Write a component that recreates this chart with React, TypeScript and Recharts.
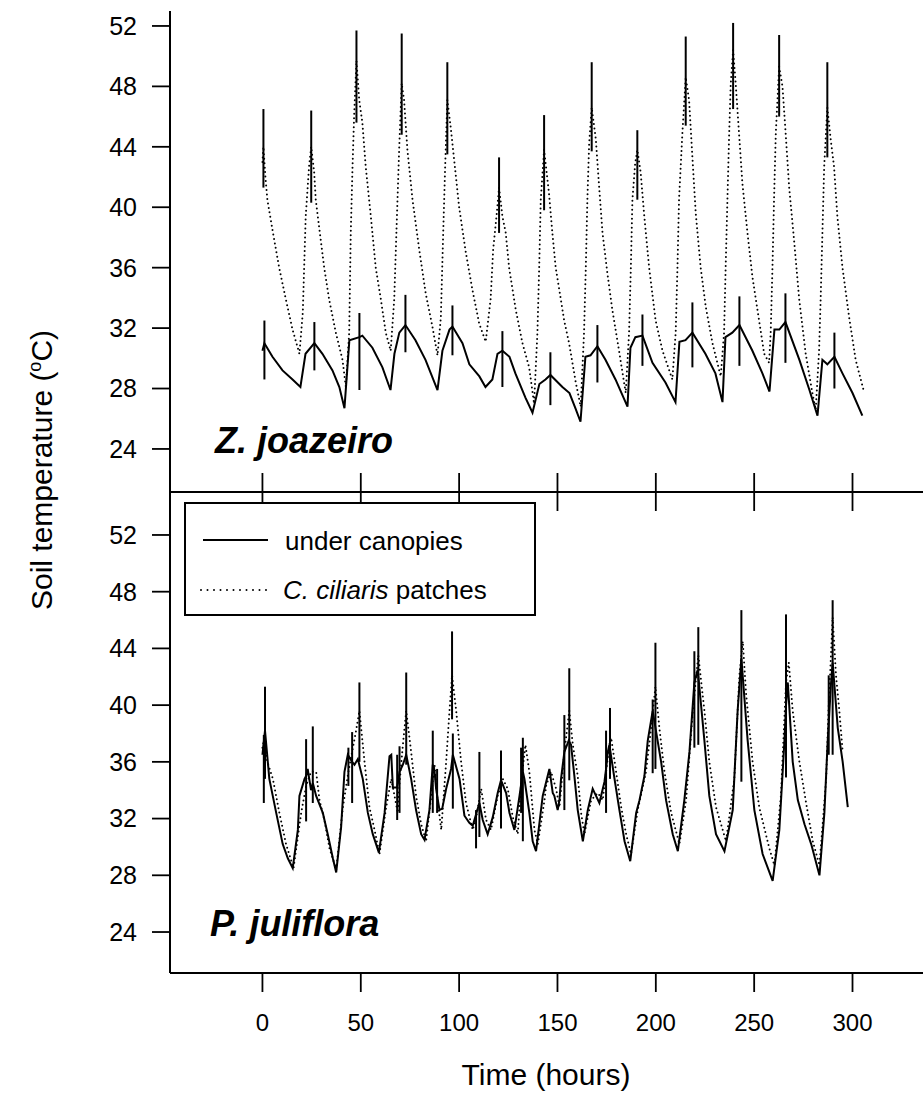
import React from 'react';
import { LineChart, Line, XAxis, YAxis, ErrorBar, Legend, Label } from 'recharts';

type Pt = [number, number];
type Err = [number, number, number];

const hourTicks = [0, 50, 100, 150, 200, 250, 300];
const tempTicks = [24, 28, 32, 36, 40, 44, 48, 52];
const panelTitles = ['Z. joazeiro', 'P. juliflora'];
const xTitle = 'Time (hours)';

// Z. joazeiro – under canopies [hour, °C]
const zjCanopy: Pt[] = [
  [0, 30.5], [1, 31.0], [5.1, 30.1], [10.2, 29.2], [15.3, 28.6], [19.3, 28.1], [21.9, 30.3], [26.4, 31.0],
  [30.5, 30.3], [35.6, 29.2], [39.1, 28.1], [41.7, 26.7], [44.2, 31.2], [49.3, 31.4], [50.8, 31.5], [55.9, 30.7],
  [61, 29.4], [65.1, 27.9], [67.1, 30.3], [69.6, 31.7], [72.7, 32.2], [77.8, 31.2], [82.9, 29.9], [89, 27.9],
  [91.5, 30.5], [95.1, 31.9], [96.6, 32.1], [101.7, 31.0], [105.2, 29.6], [110.3, 28.8], [113.4, 28.1], [116.9, 28.6],
  [119.5, 30.3], [122, 30.5], [125.6, 30.1], [128.6, 29.0], [133.7, 27.4], [137.3, 26.4], [140.8, 28.3], [143.9, 28.6],
  [146.4, 28.9], [152.5, 28.1], [156.1, 27.7], [159.1, 26.7], [161.7, 25.8], [164.2, 30.1], [166.8, 30.2], [170.3, 30.8],
  [174.4, 29.9], [179.5, 28.6], [185.6, 26.8], [187.1, 30.7], [189.6, 31.4], [193.2, 31.5], [198.3, 29.7], [204.9, 28.4],
  [210, 27.1], [212, 31.1], [215.1, 31.2], [218.6, 31.7], [225.2, 30.3], [230.3, 29.0], [233.9, 27.1], [235.4, 31.4],
  [238.9, 31.7], [242.5, 32.2], [249.1, 30.5], [254.2, 29.0], [257.8, 27.8], [260.3, 31.9], [262.8, 31.9], [265.9, 32.4],
  [273, 29.9], [278.1, 27.9], [282.2, 26.2], [284.7, 29.9], [287.2, 29.6], [290.8, 30.1], [294.9, 29.0], [300, 27.7],
  [305, 26.2],
];
// [hour, low, high]
const zjCanopyErr: Err[] = [
  [1, 28.6, 32.5], [26.4, 29.2, 32.4], [49.3, 27.9, 33.0], [72.7, 30.4, 34.2], [96.6, 30.2, 33.5], [122, 28.1, 31.8],
  [146.4, 26.9, 30.4], [170.3, 28.4, 32.2], [193.2, 29.5, 32.9], [218.6, 29.4, 33.7], [242.5, 29.5, 34.1],
  [265.9, 29.7, 34.3], [290.8, 28.0, 31.7],
];

// Z. joazeiro – C. ciliaris patches
const zjGrass: Pt[] = [
  [0, 43.0], [0.5, 44.0], [1.5, 42.0], [2.5, 40.5], [5.1, 38.5], [8.5, 36.0], [11.9, 33.9], [15.3, 31.9], [18.8, 30.3],
  [20.5, 33.0], [22, 39.4], [23.7, 42.7], [24.8, 44.0], [26.3, 42.3], [27.1, 40.5], [28.8, 38.7], [31.4, 36.0],
  [33.9, 33.9], [37.3, 31.7], [40.7, 29.9], [42.4, 28.1], [44.1, 31.7], [44.9, 38.3], [45.8, 42.7], [46.6, 46.0],
  [47.8, 49.7], [49.2, 47.1], [50.8, 45.6], [52.5, 42.7], [55.1, 39.4], [57.6, 36.0], [60.2, 33.9], [62.7, 31.7],
  [65.2, 30.5], [67, 33.9], [68.1, 38.3], [69.5, 43.8], [70.8, 48.2], [72, 47.1], [73.7, 43.8], [76.3, 40.5],
  [79.7, 37.2], [83, 34.3], [86.4, 32.1], [89, 30.2], [90.7, 32.7], [91.9, 38.3], [92.9, 42.7], [94, 47.1],
  [95.7, 45.3], [97.5, 43.1], [100, 40.0], [103.4, 37.0], [106.8, 34.5], [110.2, 32.3], [113.5, 31.1], [116, 33.9],
  [117.3, 37.2], [119, 39.4], [120.3, 41.3], [122, 39.4], [123.7, 38.3], [125.4, 36.0], [128.8, 33.2], [132.2, 31.0],
  [135.6, 29.4], [138.1, 27.0], [139.8, 31.7], [140.7, 36.0], [141.5, 40.5], [143.2, 43.8], [145.7, 40.9], [147.4, 38.3],
  [149.1, 36.0], [151.7, 33.9], [153.4, 32.5], [155.9, 31.0], [159.3, 28.4], [161.8, 26.8], [163.5, 31.7], [164.4, 36.0],
  [165.2, 40.5], [166.1, 44.2], [167.4, 46.6], [169.5, 44.5], [171.2, 41.3], [172.9, 38.3], [175.4, 35.6], [177.9, 33.2],
  [181.3, 30.5], [184.7, 27.7], [186.4, 31.7], [187.3, 36.0], [188.1, 40.5], [189.5, 42.9], [190.6, 43.8], [192.3, 42.3],
  [194, 39.6], [196.6, 36.0], [199.9, 32.5], [203.4, 30.5], [208.4, 28.6], [210.1, 31.7], [211, 36.0], [211.8, 40.5],
  [213.5, 44.9], [215.2, 48.6], [216.9, 47.1], [218.6, 43.3], [220.3, 39.6], [222.8, 36.0], [225.4, 33.4], [228.8, 31.0],
  [233, 28.8], [234.7, 31.7], [235.5, 36.0], [236.4, 40.5], [237.3, 44.9], [238.1, 48.2], [239.3, 50.4], [240.6, 48.2],
  [242.3, 44.9], [244, 41.6], [246.6, 38.3], [249.1, 35.4], [252.5, 32.5], [255.1, 30.3], [257.6, 29.7], [258.4, 31.7],
  [259.3, 36.0], [260.1, 40.5], [261, 44.9], [262.7, 49.3], [264.4, 48.0], [266, 44.9], [267.8, 41.3], [270.3, 37.8],
  [272.9, 33.9], [276.2, 30.3], [279.6, 27.7], [281.3, 26.6], [283, 30.5], [283.8, 33.9], [284.7, 38.3], [285.6, 42.7],
  [287.2, 46.6], [288.9, 44.5], [290.6, 42.7], [292.3, 39.4], [294.9, 36.0], [298.3, 32.7], [301.6, 29.9], [305.8, 27.8],
];
const zjGrassErr: Err[] = [
  [0.5, 41.3, 46.5], [24.8, 40.3, 46.4], [47.8, 45.6, 51.7], [70.8, 44.8, 51.5], [94, 43.5, 49.6], [120.3, 38.3, 43.3],
  [143.2, 39.8, 46.1], [167.4, 43.7, 49.6], [190.6, 40.5, 45.1], [215.2, 45.4, 51.3], [239.3, 46.5, 52.2],
  [262.7, 46.0, 51.4], [287.2, 43.3, 49.6],
];

// P. juliflora – under canopies
const pjCanopy: Pt[] = [
  [0, 36.5], [1.3, 38.2], [3.5, 34.8], [7, 32.4], [10.3, 30.2], [12.9, 29.2], [15.4, 28.5], [18, 31.2], [18.8, 33.6],
  [21.4, 34.8], [22.2, 35.0], [23, 35.5], [24.7, 34.0], [25.6, 34.5], [27.3, 33.6], [30.7, 32.4], [33.2, 30.9],
  [35.8, 29.2], [37.5, 28.2], [40, 31.4], [41.7, 35.3], [43.4, 36.5], [45.6, 36.0], [46.8, 35.8], [48.5, 36.2],
  [51, 34.8], [53.6, 32.4], [56.1, 30.9], [59.2, 29.6], [62.1, 32.4], [64.6, 36.4], [65.5, 36.5], [66.3, 34.2],
  [68.5, 34.2], [69.7, 35.3], [71.4, 35.8], [73.1, 36.5], [75.6, 34.8], [78.1, 32.6], [80.7, 30.9], [82.4, 30.5],
  [84.9, 32.6], [86.6, 35.8], [87.5, 35.3], [88.3, 34.1], [90, 32.6], [91.4, 32.7], [93.4, 34.1], [95.9, 35.5],
  [96.8, 36.5], [100.2, 34.8], [102.7, 32.2], [105.2, 31.7], [106.9, 31.5], [110.3, 33.1], [112, 31.9], [114.5, 30.9],
  [117.1, 32.1], [119.6, 33.8], [121.3, 34.7], [123.9, 33.8], [125.6, 32.4], [128.1, 31.2], [130.7, 33.6], [132.4, 35.3],
  [133.2, 34.8], [135.7, 32.4], [137.4, 30.4], [139.1, 29.7], [142.5, 33.6], [145, 35.0], [145.9, 35.5], [147.6, 33.8],
  [148.4, 33.6], [150.1, 32.6], [151, 33.3], [151.8, 34.8], [153.5, 36.7], [155.7, 37.5], [156.9, 37.2], [158.6, 35.0],
  [160.3, 32.6], [162.9, 30.4], [165.4, 32.6], [167.9, 34.1], [169.6, 33.6], [171.3, 33.1], [173.9, 34.6], [174.7, 35.5],
  [175.6, 36.7], [176.4, 37.2], [179, 34.8], [181.5, 32.6], [184.1, 30.4], [187, 29.0], [190, 32.4], [191.7, 33.3],
  [194.2, 35.0], [195.9, 37.5], [198.4, 39.6], [202.7, 36.0], [205.2, 33.3], [208.6, 30.9], [211.2, 29.7], [214.5, 33.3],
  [217.1, 36.7], [219.6, 41.6], [221.3, 42.5], [224.7, 37.5], [227.2, 33.6], [230.6, 30.9], [234.9, 29.7], [239.1, 32.6],
  [241.6, 39.6], [243.5, 43.3], [246.7, 37.5], [250.1, 32.6], [254.3, 29.5], [259.4, 27.6], [262.8, 31.2], [265.4, 37.5],
  [266.2, 40.0], [267.1, 41.6], [269.6, 36.0], [272.2, 33.3], [275.6, 31.6], [279, 30.2], [283.2, 28.0], [285.7, 32.4],
  [287.4, 37.5], [289.1, 41.6], [289.9, 43.0], [292.5, 38.4], [295, 36.0], [297.6, 32.8],
];
const pjCanopyErr: Err[] = [
  [1.3, 34.8, 41.3], [22.2, 31.8, 37.6], [45.6, 33.1, 38.1], [68.5, 31.9, 36.5], [73.1, 35.8, 42.3], [86.6, 32.4, 38.2],
  [96.8, 32.7, 38.0], [110.3, 30.7, 36.7], [121.3, 31.3, 36.8], [132.4, 30.4, 37.7], [153.5, 32.6, 39.3],
  [174.7, 32.4, 38.2], [198.4, 35.2, 40.4], [219.6, 37.0, 43.8], [243.5, 34.6, 46.7], [266.2, 34.9, 46.4],
  [289.9, 36.5, 47.4],
];

// P. juliflora – C. ciliaris patches
const pjGrass: Pt[] = [
  [0, 37.0], [0.7, 37.5], [2.5, 36.0], [5.3, 34.8], [8.6, 32.4], [12, 30.2], [15.8, 28.5], [19.7, 32.4], [22.2, 34.3],
  [24.7, 35.3], [25.6, 35.3], [27.3, 35.3], [29, 33.3], [31.5, 31.9], [34.1, 29.9], [37.5, 28.4], [40.9, 32.8],
  [43.7, 35.3], [47.6, 38.2], [49.3, 39.6], [51.9, 36.0], [54.4, 32.8], [57, 31.2], [59.5, 29.5], [62.9, 32.8],
  [65.5, 34.8], [68.8, 32.4], [69.7, 34.5], [71.4, 37.2], [73.1, 39.6], [75.6, 36.7], [78.1, 33.6], [80.7, 31.6],
  [83.2, 30.4], [85.8, 33.6], [87.5, 35.8], [88.8, 33.6], [90.9, 31.2], [93.4, 36.0], [95.1, 39.6], [96.4, 42.1],
  [98.5, 39.6], [101, 36.0], [103.5, 33.1], [106.9, 31.2], [108.6, 32.0], [111.2, 34.1], [113.7, 31.9], [116.2, 31.2],
  [119.6, 33.6], [122.2, 34.8], [124.7, 34.1], [127.3, 32.1], [129.8, 30.9], [131.5, 34.5], [133.7, 37.2], [135.7, 35.3],
  [138.3, 31.2], [140, 30.2], [143.4, 33.3], [144.2, 34.3], [146.7, 35.3], [149.3, 34.1], [151, 32.8], [153.5, 36.7],
  [156, 39.6], [157.8, 37.2], [160.3, 35.0], [162, 32.4], [163.7, 30.9], [167.1, 33.3], [170.5, 33.8], [173, 33.3],
  [174.7, 35.3], [176.7, 37.5], [177.3, 37.7], [179.8, 35.3], [182.4, 32.8], [184.9, 30.9], [187.4, 29.5], [190.8, 32.6],
  [195, 35.3], [197.6, 38.4], [199.8, 41.3], [201.8, 38.4], [204.4, 35.3], [207.8, 32.4], [212, 30.2], [215.4, 33.3],
  [218.8, 39.6], [221.6, 43.5], [224.7, 39.6], [227.2, 36.0], [230.6, 32.8], [235.7, 30.4], [239.9, 34.8], [242.5, 42.1],
  [244.2, 44.5], [245.9, 40.8], [249.2, 36.0], [252.6, 32.8], [257.7, 29.9], [260.3, 28.7], [263.6, 33.6], [266.2, 41.6],
  [267.6, 43.0], [269.6, 39.6], [273, 36.0], [276.4, 33.1], [279.8, 30.4], [283.2, 28.7], [286.6, 34.8], [287.9, 40.0],
  [288.6, 42.1], [289.9, 46.2], [291.6, 42.1], [293.3, 39.6], [295, 36.7],
];
const pjGrassErr: Err[] = [
  [0.7, 33.1, 37.9], [25.6, 33.1, 38.5], [43.7, 34.3, 37.0], [49.3, 36.0, 41.6], [69.7, 32.4, 37.1], [88.8, 32.4, 35.5],
  [96.4, 39.0, 45.2], [108.6, 29.9, 32.6], [131.5, 32.4, 37.0], [156, 34.7, 42.6], [176.7, 34.8, 39.8],
  [199.8, 35.5, 44.4], [221.6, 37.2, 45.5], [287.9, 36.5, 42.1],
];

type Row = { h: number; t: number; err?: [number, number] };
function buildSeries(points: Pt[], errs: Err[]): Row[] {
  return points.map(([h, t]) => {
    const e = errs.find((x) => x[0] === h);
    return e ? { h, t, err: [t - e[1], e[2] - t] as [number, number] } : { h, t };
  });
}

const zjCanopyRows = buildSeries(zjCanopy, zjCanopyErr);
const zjGrassRows = buildSeries(zjGrass, zjGrassErr);
const pjCanopyRows = buildSeries(pjCanopy, pjCanopyErr);
const pjGrassRows = buildSeries(pjGrass, pjGrassErr);

const FONT = '"Liberation Sans", Arial, Helvetica, sans-serif';
const H_DOMAIN: [number, number] = [-47, 345.5];
const TOP_DOMAIN: [number, number] = [21.15, 52.99];
const BOT_DOMAIN: [number, number] = [21.11, 55.03];
const AXIS_LINE = { stroke: '#000', strokeWidth: 2 };
const TICK_LINE = { stroke: '#000', strokeWidth: 1.8 };
const DOTS = '0 4.5';
const LEGEND_DOTS = '0 6.5';

const NoTick = () => <g />;

const yTick = { fontSize: 25, fill: '#000', fontFamily: FONT };

function renderLegend() {
  return (
    <svg width={352} height={114} style={{ display: 'block' }}>
      <rect x={1} y={1} width={350} height={112} fill="#fff" stroke="#000" strokeWidth={2} />
      <line x1={19} x2={84} y1={38} y2={38} stroke="#000" strokeWidth={2} />
      <text x={101} y={48} fontSize={26} fontFamily={FONT} fill="#000">under canopies</text>
      <line
        x1={17}
        x2={84}
        y1={88}
        y2={88}
        stroke="#000"
        strokeWidth={2}
        strokeLinecap="round"
        strokeDasharray={LEGEND_DOTS}
      />
      <text x={99} y={97} fontSize={26} fontFamily={FONT} fill="#000">
        <tspan fontStyle="italic">C. ciliaris</tspan> patches
      </text>
    </svg>
  );
}

export default function App() {
  return (
    <div
      style={{
        position: 'absolute',
        left: 0,
        top: 0,
        width: 923,
        height: 1099,
        overflow: 'hidden',
        background: '#fff',
      }}
    >
      {/* Top panel: Z. joazeiro */}
      <div style={{ position: 'absolute', left: 0, top: 0 }}>
        <LineChart width={942} height={520} margin={{ top: 11, right: 0, bottom: 0, left: 0 }}>
          <XAxis
            xAxisId="b"
            type="number"
            dataKey="h"
            domain={H_DOMAIN}
            ticks={hourTicks}
            interval={0}
            allowDataOverflow
            height={28}
            tickSize={19}
            tick={NoTick}
            axisLine={AXIS_LINE}
            tickLine={TICK_LINE}
          />
          <XAxis
            xAxisId="t"
            orientation="top"
            type="number"
            dataKey="h"
            domain={H_DOMAIN}
            allowDataOverflow
            height={0}
            tick={false}
            tickLine={false}
            axisLine={AXIS_LINE}
          />
          <YAxis
            type="number"
            domain={TOP_DOMAIN}
            ticks={tempTicks}
            interval={0}
            allowDataOverflow
            width={170}
            tickSize={18}
            tickMargin={15}
            tick={yTick}
            axisLine={AXIS_LINE}
            tickLine={TICK_LINE}
          />
          <Line
            xAxisId="b"
            data={zjGrassRows}
            dataKey="t"
            type="linear"
            stroke="#000"
            strokeWidth={2}
            strokeLinecap="round"
            strokeDasharray={DOTS}
            dot={false}
            activeDot={false}
            isAnimationActive={false}
          >
            <ErrorBar dataKey="err" width={0} stroke="#000" strokeWidth={2} direction="y" />
          </Line>
          <Line
            xAxisId="b"
            data={zjCanopyRows}
            dataKey="t"
            type="linear"
            stroke="#000"
            strokeWidth={2}
            dot={false}
            activeDot={false}
            isAnimationActive={false}
          >
            <ErrorBar dataKey="err" width={0} stroke="#000" strokeWidth={2} direction="y" />
          </Line>
        </LineChart>
      </div>

      {/* Bottom panel: P. juliflora */}
      <div style={{ position: 'absolute', left: 0, top: 462 }}>
        <LineChart width={942} height={641} margin={{ top: 0, right: 0, bottom: 0, left: 0 }}>
          <XAxis
            xAxisId="t"
            orientation="top"
            type="number"
            dataKey="h"
            domain={H_DOMAIN}
            ticks={hourTicks}
            interval={0}
            allowDataOverflow
            height={30}
            tickSize={19}
            tick={NoTick}
            axisLine={AXIS_LINE}
            tickLine={TICK_LINE}
          />
          <XAxis
            xAxisId="b"
            type="number"
            dataKey="h"
            domain={H_DOMAIN}
            ticks={hourTicks}
            interval={0}
            allowDataOverflow
            height={130}
            tickSize={19}
            tickMargin={22}
            tick={{ fontSize: 24, fill: '#000', fontFamily: FONT }}
            axisLine={AXIS_LINE}
            tickLine={TICK_LINE}
          >
            <Label
              value={xTitle}
              position="insideBottom"
              offset={18}
              dx={-10}
              style={{ fontSize: 30, fill: '#000', fontFamily: FONT }}
            />
          </XAxis>
          <YAxis
            type="number"
            domain={BOT_DOMAIN}
            ticks={tempTicks}
            interval={0}
            allowDataOverflow
            width={170}
            tickSize={18}
            tickMargin={15}
            tick={yTick}
            axisLine={AXIS_LINE}
            tickLine={TICK_LINE}
          />
          <Legend
            layout="horizontal"
            align="center"
            verticalAlign="middle"
            content={renderLegend}
            wrapperStyle={{ left: 184, top: 40, width: 352, height: 114 }}
          />
          <Line
            xAxisId="b"
            data={pjGrassRows}
            dataKey="t"
            type="linear"
            stroke="#000"
            strokeWidth={2}
            strokeLinecap="round"
            strokeDasharray={DOTS}
            dot={false}
            activeDot={false}
            isAnimationActive={false}
          >
            <ErrorBar dataKey="err" width={0} stroke="#000" strokeWidth={2} direction="y" />
          </Line>
          <Line
            xAxisId="b"
            data={pjCanopyRows}
            dataKey="t"
            type="linear"
            stroke="#000"
            strokeWidth={2}
            dot={false}
            activeDot={false}
            isAnimationActive={false}
          >
            <ErrorBar dataKey="err" width={0} stroke="#000" strokeWidth={2} direction="y" />
          </Line>
        </LineChart>
      </div>

      {/* Text overlay: panel titles and y-axis title */}
      <svg
        width={923}
        height={1099}
        style={{ position: 'absolute', left: 0, top: 0, pointerEvents: 'none' }}
      >
        <text x={215} y={453} fontSize={36} fontWeight="bold" fontStyle="italic" fontFamily={FONT} fill="#000">
          {panelTitles[0]}
        </text>
        <text x={210} y={936} fontSize={36} fontWeight="bold" fontStyle="italic" fontFamily={FONT} fill="#000">
          {panelTitles[1]}
        </text>
        <text
          x={52}
          y={470}
          transform="rotate(-90 52 470)"
          textAnchor="middle"
          fontSize={30}
          fontFamily={FONT}
          fill="#000"
        >
          Soil temperature (<tspan dy={-11} fontSize={18}>o</tspan>
          <tspan dy={11}>C)</tspan>
        </text>
      </svg>
    </div>
  );
}
